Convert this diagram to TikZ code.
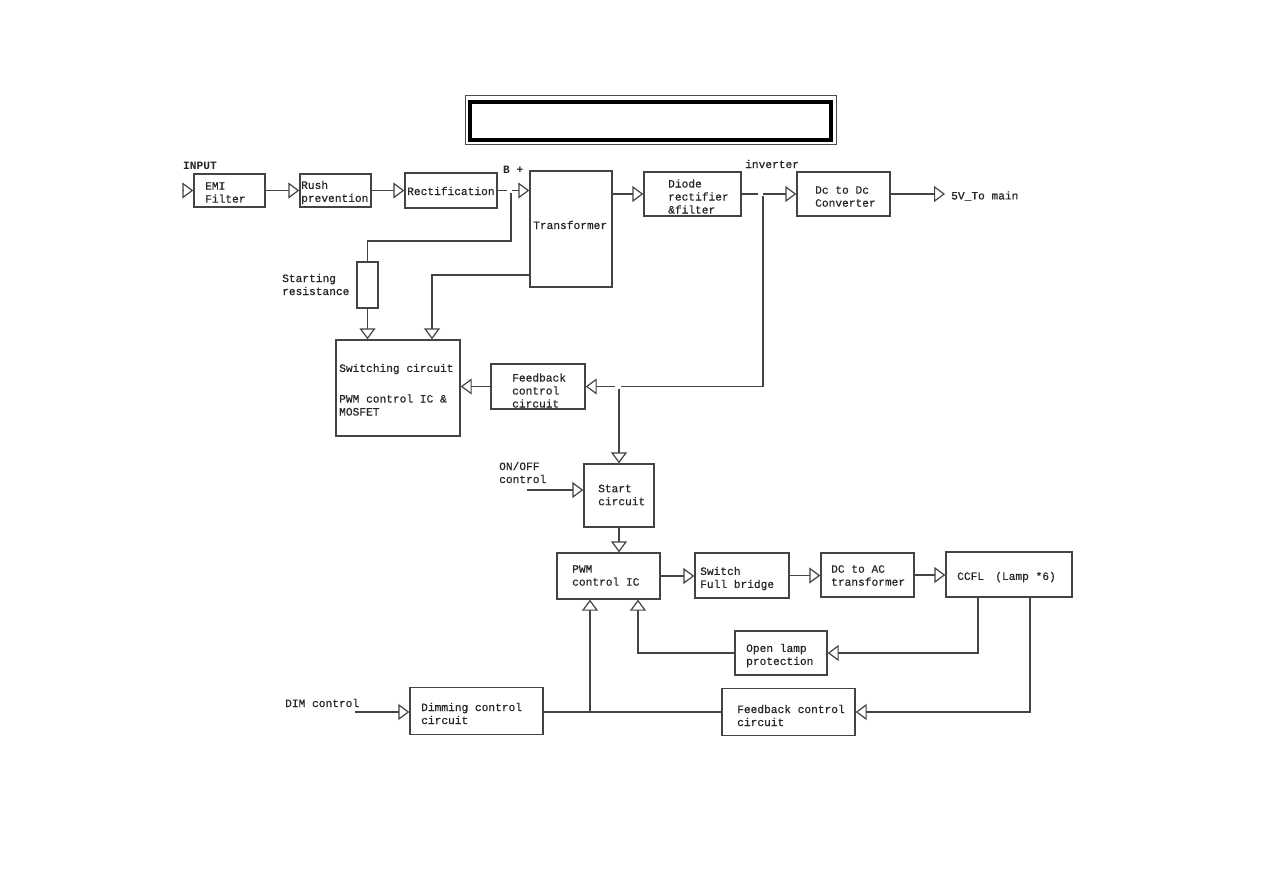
\documentclass[tikz,border=0pt]{standalone}
\usepackage{fontspec}
\setmonofont{Liberation Mono}
\newfontfamily\diagfont[FakeBold=0.5]{Liberation Mono}
\usetikzlibrary{arrows.meta}
\definecolor{ln}{HTML}{444444}
\tikzset{
  blk/.style={draw=ln, line width=1.4pt, inner sep=0pt, fill=none},
  con/.style={draw=ln, line width=1.2pt, -{Triangle[open, length=11pt, width=16pt, line width=1.2pt]}},
  wire/.style={draw=ln, line width=1.2pt},
  txt/.style={font=\diagfont\fontsize{11.2}{13}\selectfont, inner sep=0pt, align=left, anchor=west, text=black!85},
  btxt/.style={txt, font=\ttfamily\bfseries\fontsize{11.2}{13}\selectfont}
}
\begin{document}
\begin{tikzpicture}[x=1pt, y=-1pt]
\useasboundingbox (0,0) rectangle (1263,893);
\fill[white] (0,0) rectangle (1263,893);
% title frame
\draw[line width=1pt, black!70] (465,96) rectangle (836,145);
\draw[line width=4pt, black] (470,102) rectangle (831,140);

% boxes
\node[blk, minimum width=71pt, minimum height=33pt] (emi) at (229.5,190.5) {};
\node[blk, minimum width=71pt, minimum height=33pt] (rush) at (335.5,190.5) {};
\node[blk, minimum width=92pt, minimum height=35pt] (rect) at (451,190.5) {};
\node[blk, minimum width=82pt, minimum height=116pt] (trans) at (571,229) {};
\node[blk, minimum width=97pt, minimum height=44pt] (diode) at (692.5,194) {};
\node[blk, minimum width=93pt, minimum height=44pt] (dcdc) at (843.5,194) {};
\node[blk, minimum width=21pt, minimum height=46pt] (res) at (367.5,285) {};
\node[blk, minimum width=124pt, minimum height=96pt] (sw) at (398,388) {};
\node[blk, minimum width=94pt, minimum height=45pt] (fb1) at (538,386.5) {};
\node[blk, minimum width=70pt, minimum height=63pt] (start) at (619,495.5) {};
\node[blk, minimum width=103pt, minimum height=46pt] (pwm) at (608.5,576) {};
\node[blk, minimum width=94pt, minimum height=45pt] (swfb) at (742,575.5) {};
\node[blk, minimum width=93pt, minimum height=44pt] (dcac) at (867.5,575) {};
\node[blk, minimum width=126pt, minimum height=45pt] (ccfl) at (1009,574.5) {};
\node[blk, minimum width=92pt, minimum height=44pt] (olp) at (781,653) {};
\node[blk, minimum width=133pt, minimum height=47pt] (fb2) at (788.5,712) {};
\node[blk, minimum width=133pt, minimum height=47pt] (dim) at (476.5,711) {};

% texts
\node[btxt] (t-input) at (183,166) {INPUT};
\node[txt] (t-emi) at (205,192.5) {EMI\\Filter};
\node[txt] (t-rush) at (301,192.5) {Rush\\prevention};
\node[txt] (t-rect) at (407,191) {Rectification};
\node[btxt] (t-bp) at (503,170) {B +};
\node[txt] (t-trans) at (533,225) {Transformer};
\node[txt] (t-diode) at (668,196.5) {Diode\\rectifier\\\&filter};
\node[txt] (t-inv) at (745,164) {inverter};
\node[txt] (t-dcdc) at (815,196.5) {Dc to Dc\\Converter};
\node[txt] (t-5v) at (951,196) {5V\_To main};
\node[txt] (t-res) at (282,284.5) {Starting\\resistance};
\node[txt] (t-sw1) at (339,369) {Switching circuit};
\node[txt] (t-sw2) at (339,405) {PWM control IC \&\\MOSFET};
\node[txt] (t-fb1) at (512,390.5) {Feedback\\control\\circuit};
\node[txt] (t-onoff) at (499,472.5) {ON/OFF\\control};
\node[txt] (t-start) at (598,495) {Start\\circuit};
\node[txt] (t-pwm) at (572,575.5) {PWM\\control IC};
\node[txt] (t-swfb) at (700,578.5) {Switch\\Full bridge};
\node[txt] (t-dcac) at (831,575.5) {DC to AC\\transformer};
\node[txt] (t-ccfl) at (957,577) {CCFL\hspace{1em}(Lamp *6)};
\node[txt] (t-olp) at (746,655.5) {Open lamp\\protection};
\node[txt] (t-dimc) at (285,703) {DIM control};
\node[txt] (t-dim) at (421,713.5) {Dimming control\\circuit};
\node[txt] (t-fb2) at (737,715.5) {Feedback control\\circuit};

% coordinates
\coordinate (inp) at (183,190.5);
\coordinate (bpg) at (507,190.5);
\coordinate (bp) at (512,190.5);
\coordinate (bpd) at (511,193);
\coordinate (rj) at (511,241);
\coordinate (tl) at (530,275);
\coordinate (tk) at (432,275);
\coordinate (ivg) at (758,194);
\coordinate (iv) at (763,194);
\coordinate (ivd) at (763,196);
\coordinate (fbj) at (763,386.5);
\coordinate (fbg) at (621,386.5);
\coordinate (fbs) at (615,386.5);
\coordinate (sj) at (619,388.5);
\coordinate (oo) at (527,490);
\coordinate (out) at (945,194);
\coordinate (dj) at (590,712);
\coordinate (dm) at (355,712);

% connectors
\draw[con] (inp) -- (emi.west);
\draw[con] (emi.east) -- (rush.west);
\draw[con] (rush.east) -- (rect.west);
\draw[wire] (rect.east) -- (bpg);
\draw[con] (bp) -- (bp -| trans.west);
\draw[wire] (bpd) -- (rj) -| (res.north);
\draw[con] (res.south) -- (res.south |- sw.north);
\draw[con] (tl) -- (tk) -- (tk |- sw.north);
\draw[con] (trans.east |- diode.west) -- (diode.west);
\draw[wire] (diode.east) -- (ivg);
\draw[con] (iv) -- (dcdc.west);
\draw[con] (dcdc.east) -- (out);
\draw[wire] (ivd) -- (fbj) -- (fbg);
\draw[con] (fbs) -- (fb1.east);
\draw[con] (fb1.west) -- (fb1.west -| sw.east);
\draw[con] (sj) -- (sj |- start.north);
\draw[con] (oo) -- (oo -| start.west);
\draw[con] (start.south) -- (start.south |- pwm.north);
\draw[con] (pwm.east) -- (pwm.east -| swfb.west);
\draw[con] (swfb.east) -- (swfb.east -| dcac.west);
\draw[con] (dcac.east) -- (dcac.east -| ccfl.west);
\draw[con] ([xshift=-31pt]ccfl.south) |- (olp.east);
\draw[con] (olp.west) -| ([xshift=29.5pt]pwm.south);
\draw[con] ([xshift=21pt]ccfl.south) |- (fb2.east);
\draw[wire] (fb2.west) -- (fb2.west -| dim.east);
\draw[con] (dj) -- (dj |- pwm.south);
\draw[con] (dm) -- (dm -| dim.west);
\end{tikzpicture}
\end{document}
